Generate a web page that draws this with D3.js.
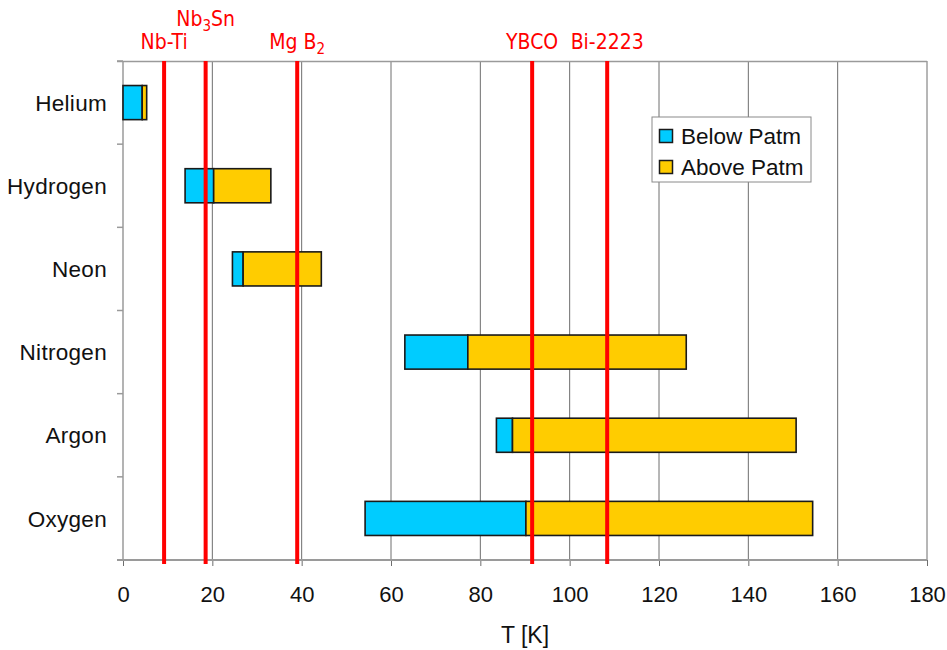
<!DOCTYPE html>
<html>
<head>
<meta charset="utf-8">
<script src="https://cdn.jsdelivr.net/npm/d3@7/dist/d3.min.js"></script>
<style>
  html, body { margin: 0; padding: 0; background: #fff; }
  svg { display: block; }
  .lbl { font-family: "Liberation Sans", Arial, sans-serif; fill: #111; }
  .red { font-family: "DejaVu Sans Condensed", "DejaVu Sans", sans-serif; font-stretch: condensed; fill: #ff0000; }
</style>
</head>
<body>
<svg id="chart" width="947" height="650"></svg>
<script>
// ---- data ----
const categories = ["Helium", "Hydrogen", "Neon", "Nitrogen", "Argon", "Oxygen"];
const lowT   = [0,    13.9, 24.5, 63.1, 83.6, 54.2];   // start of "below Patm" range
const boilT  = [4.3,  20.3, 26.9, 77.2, 87.2, 90.2];   // end of below / start of above
const critT  = [5.3,  33.1, 44.4, 126.1, 150.7, 154.4]; // end of "above Patm"
const seriesNames = ["Below Patm", "Above Patm"];
const seriesColors = ["#00ccff", "#ffcc00"];
const xTicks = [0, 20, 40, 60, 80, 100, 120, 140, 160, 180];
const scNames = ["Nb-Ti", "Nb3Sn", "MgB2", "YBCO", "Bi-2223"];
const scTemps = [9.2, 18.5, 39.0, 91.6, 108.4];

// ---- layout ----
const svg = d3.select("#chart");
const pLeft = 123, pRight = 927, pTop = 61, pBottom = 560;

const x = d3.scaleLinear().domain([0, 180]).range([pLeft, pRight]);
const y = d3.scaleBand().domain(categories).range([pTop, pBottom])
  .paddingInner(0.59).paddingOuter(0.295);
const step = y.step();

// gridlines
svg.append("g").selectAll("line").data(xTicks.filter(d => d > 0)).join("line")
  .attr("x1", d => x(d)).attr("x2", d => x(d))
  .attr("y1", pTop).attr("y2", pBottom)
  .attr("stroke", "#6e6e6e").attr("stroke-width", 1);

// top border
svg.append("line").attr("x1", pLeft - 6).attr("x2", pRight).attr("y1", pTop + 0.5).attr("y2", pTop + 0.5)
  .attr("stroke", "#9a9a9a").attr("stroke-width", 1.5);

// x axis
const xAxis = d3.axisBottom(x).tickValues(xTicks).tickSize(6).tickPadding(20).tickSizeOuter(0);
const gx = svg.append("g").attr("transform", `translate(0,${pBottom})`).call(xAxis);
gx.select(".domain").remove();
gx.selectAll(".tick line").attr("stroke", "#6e6e6e");
gx.selectAll(".tick text").attr("class", "lbl").style("font-size", "22px")
  .style("font-family", "'Liberation Sans', Arial, sans-serif").attr("fill", "#111");
svg.append("line").attr("x1", pLeft - 6).attr("x2", pRight).attr("y1", pBottom).attr("y2", pBottom)
  .attr("stroke", "#9a9a9a").attr("stroke-width", 2);

// y axis line and boundary ticks
svg.append("line").attr("x1", pLeft).attr("x2", pLeft).attr("y1", pTop).attr("y2", pBottom)
  .attr("stroke", "#9a9a9a").attr("stroke-width", 1.5);
const bounds = d3.range(categories.length + 1).map(i => pTop + i * step);
svg.append("g").selectAll("line").data(bounds).join("line")
  .attr("x1", pLeft - 6).attr("x2", pLeft).attr("y1", d => d).attr("y2", d => d)
  .attr("stroke", "#9a9a9a").attr("stroke-width", 1.5);

// category labels
svg.append("g").selectAll("text").data(categories).join("text")
  .attr("class", "lbl").attr("x", 107)
  .attr("y", d => y(d) + y.bandwidth() / 2)
  .attr("dy", "0.36em").attr("text-anchor", "end")
  .style("font-size", "22.5px").style("letter-spacing", "0.3px").text(d => d);

// bars
const rows = categories.map((c, i) => ({ c, lo: lowT[i], mid: boilT[i], hi: critT[i] }));
const gb = svg.append("g");
gb.selectAll("rect.below").data(rows).join("rect").attr("class", "below")
  .attr("x", d => x(d.lo)).attr("width", d => x(d.mid) - x(d.lo))
  .attr("y", d => y(d.c)).attr("height", y.bandwidth())
  .attr("fill", seriesColors[0]).attr("stroke", "#1a1a1a").attr("stroke-width", 1.6);
gb.selectAll("rect.above").data(rows).join("rect").attr("class", "above")
  .attr("x", d => x(d.mid)).attr("width", d => x(d.hi) - x(d.mid))
  .attr("y", d => y(d.c)).attr("height", y.bandwidth())
  .attr("fill", seriesColors[1]).attr("stroke", "#1a1a1a").attr("stroke-width", 1.6);

// superconductor lines
const sc = scNames.map((n, i) => ({ n, t: scTemps[i] }));
svg.append("g").selectAll("line").data(sc).join("line")
  .attr("x1", d => x(d.t)).attr("x2", d => x(d.t))
  .attr("y1", pTop).attr("y2", pBottom + 4)
  .attr("stroke", "#ff0000").attr("stroke-width", 4);

// superconductor labels (with subscripts)
const gl = svg.append("g");
sc.forEach(d => {
  const t = gl.append("text").attr("class", "red")
    .attr("x", x(d.t)).attr("y", d.n === "Nb3Sn" ? 26 : 49)
    .attr("text-anchor", "middle").style("font-size", "21px");
  if (d.n === "Nb3Sn") {
    t.append("tspan").text("Nb");
    t.append("tspan").attr("dy", 5).style("font-size", "15px").text("3");
    t.append("tspan").attr("dy", -5).text("Sn");
  } else if (d.n === "MgB2") {
    t.append("tspan").text("Mg B");
    t.append("tspan").attr("dy", 5).style("font-size", "15px").text("2");
  } else {
    t.text(d.n);
  }
});

// x title
svg.append("text").attr("class", "lbl").attr("x", (pLeft + pRight) / 2).attr("y", 643)
  .attr("text-anchor", "middle").style("font-size", "23px").text("T [K]");

// legend
const lg = svg.append("g").attr("transform", "translate(652,117)");
lg.append("rect").attr("width", 159).attr("height", 65)
  .attr("fill", "#fff").attr("stroke", "#8a8a8a").attr("stroke-width", 1);
seriesNames.forEach((n, i) => {
  const yy = 12 + i * 31;
  lg.append("rect").attr("x", 7.5).attr("y", yy + 0.5).attr("width", 13).attr("height", 13)
    .attr("fill", seriesColors[i]).attr("stroke", "#1a1a1a").attr("stroke-width", 1.5);
  lg.append("text").attr("class", "lbl").attr("x", 29).attr("y", yy + 7).attr("dy", "0.36em")
    .style("font-size", "22.5px").text(n);
});
</script>
</body>
</html>
